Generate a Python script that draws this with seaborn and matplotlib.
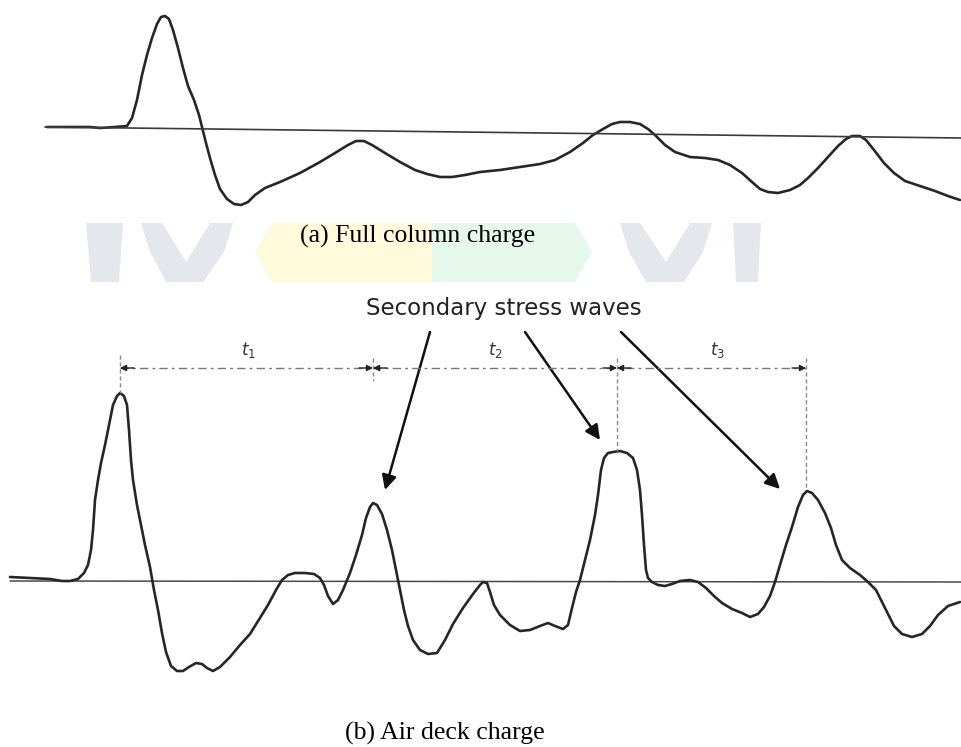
import numpy as np
import pandas as pd
import matplotlib
matplotlib.use("Agg")
import matplotlib.pyplot as plt
from matplotlib.patches import Polygon
import seaborn as sns

sns.set_theme(style="white")
plt.rcParams["font.family"] = ["Liberation Serif", "DejaVu Serif"]

# ---- (a) full column charge: time vs. amplitude ----
t_full = [47, 90, 100, 115, 127, 132, 137, 142, 147, 152, 157, 161, 165, 169, 173, 178, 183, 188,
          194, 199, 202, 206, 210, 215, 220, 227, 234, 241, 248, 255, 265, 280, 300, 320, 335, 348,
          356, 364, 372, 385, 400, 415, 427, 440, 452, 465, 480, 500, 520, 540, 555, 570, 583, 593,
          603, 612, 620, 630, 640, 648, 655, 665, 675, 690, 705, 718, 730, 742, 752, 760, 768, 778,
          790, 800, 808, 818, 828, 838, 846, 852, 860, 866, 874, 884, 894, 905, 920, 935, 948, 960]
v_full = [0, 0, -1, 0, 1, 9, 27, 52, 72, 89, 103, 110, 111, 108, 97, 79, 59, 41,
          27, 12, 0, -16, -31, -48, -62, -72, -77, -78, -75, -68, -61, -55, -46, -35, -26, -18,
          -14, -14, -18, -26, -35, -43, -47, -50, -50, -48, -45, -43, -40, -37, -33, -25, -16, -8,
          -2, 3, 5, 5, 3, -2, -8, -18, -25, -30, -31, -33, -38, -46, -55, -62, -65, -66,
          -63, -58, -51, -41, -30, -19, -12, -9, -9, -13, -23, -36, -46, -54, -59, -64, -69, -73]
t_full_base = [45, 961]
v_full_base = [0, -11]

# ---- (b) air deck charge ----
t_air = [10, 30, 50, 62, 70, 78, 84, 88, 91, 93, 95, 98, 101, 105, 109, 113, 117, 120, 124, 127,
         129, 131, 133, 137, 141, 145, 150, 154, 158, 162, 166, 171, 177, 183, 189, 196, 202, 207,
         213, 220, 230, 240, 250, 260, 268, 276, 282, 288, 295, 305, 314, 320, 324, 328, 333, 338,
         343, 350, 356, 362, 366, 370, 373, 377, 382, 387, 392, 396, 400, 404, 408, 413, 420, 428,
         437, 445, 453, 463, 473, 480, 483, 487, 490, 494, 500, 510, 520, 530, 540, 548, 555, 563,
         568, 572, 576, 580, 585, 590, 595, 598, 601, 604, 608, 613, 620, 627, 633, 637, 640, 642,
         644, 646, 648, 652, 658, 665, 672, 680, 690, 698, 706, 714, 722, 732, 742, 750, 758, 764,
         770, 775, 780, 786, 792, 798, 803, 807, 812, 818, 825, 831, 836, 842, 850, 860, 868, 876,
         882, 888, 894, 902, 912, 922, 930, 938, 948, 960]
v_air = [4, 3, 2, 0, 0, 2, 8, 16, 31, 51, 81, 101, 118, 136, 156, 176, 185, 188, 185, 176,
         151, 121, 101, 76, 56, 36, 14, -9, -29, -52, -71, -85, -90, -90, -86, -82, -83, -87,
         -90, -86, -76, -64, -53, -37, -24, -9, 1, 6, 8, 8, 7, 3, -4, -15, -23, -19,
         -9, 8, 26, 46, 63, 74, 78, 76, 67, 51, 31, 11, -9, -29, -45, -59, -69, -73,
         -72, -59, -43, -27, -13, -4, -1, -2, -11, -24, -34, -44, -50, -49, -45, -42, -45, -48,
         -44, -27, -11, 1, 21, 41, 66, 86, 111, 123, 128, 129, 130, 128, 123, 111, 91, 66,
         36, 11, 3, -1, -4, -5, -3, 0, 1, -1, -7, -15, -22, -28, -32, -36, -33, -26,
         -15, -1, 16, 36, 54, 74, 86, 90, 88, 81, 68, 53, 36, 21, 13, 6, -1, -9,
         -21, -33, -45, -53, -56, -53, -45, -34, -25, -21]
t_air_base = [10, 961]
v_air_base = [0, -1]

# secondary-wave arrival times and interval labels
t_arrivals = [120, 373, 617, 806]
interval_labels = ["$t_1$", "$t_2$", "$t_3$"]

title_a = "(a) Full column charge"
title_b = "(b) Air deck charge"
note = "Secondary stress waves"

W, H = 961, 747
fig = plt.figure(figsize=(W / 100, H / 100), dpi=100)
fig.patch.set_facecolor("white")

# layout layer in figure units (pixels, y downwards)
bg = fig.add_axes([0, 0, 1, 1])
bg.set_xlim(0, W)
bg.set_ylim(H, 0)
bg.axis("off")

# faint emblem band behind the caption
grey = (0.895, 0.91, 0.93)
band = [
    ([(86, 223), (123, 223), (119, 282), (91, 282)], grey),
    ([(141, 223), (162, 223), (186, 262), (210, 223), (233, 223), (224, 252), (203, 282),
      (166, 282), (150, 252)], grey),
    ([(272, 223), (432, 223), (432, 282), (272, 282), (255, 252)], (1.0, 0.98, 0.86)),
    ([(432, 223), (575, 223), (592, 252), (575, 282), (432, 282)], (0.9, 0.97, 0.92)),
    ([(620, 223), (640, 223), (666, 262), (690, 223), (712, 223), (703, 252), (684, 282),
      (646, 282), (629, 252)], grey),
    ([(733, 223), (761, 223), (758, 282), (736, 282)], grey),
]
for pts, col in band:
    bg.add_patch(Polygon(pts, closed=True, facecolor=col, edgecolor="none", zorder=0))

ink = "#262626"

# top trace
ax_a = fig.add_axes([0, 0, 1, 1], facecolor="none")
ax_a.set_xlim(0, W)
ax_a.set_ylim(127 - H, 127)
ax_a.axis("off")
df_a = pd.DataFrame({"t": t_full, "v": v_full})
sns.lineplot(data=df_a, x="t", y="v", ax=ax_a, sort=False, estimator=None,
             color=ink, lw=1.9, solid_joinstyle="round", solid_capstyle="round")
sns.lineplot(x=t_full_base, y=v_full_base, ax=ax_a, sort=False, estimator=None,
             color="#3a3a3a", lw=1.2)

# bottom trace
ax_b = fig.add_axes([0, 0, 1, 1], facecolor="none")
ax_b.set_xlim(0, W)
ax_b.set_ylim(581 - H, 581)
ax_b.axis("off")
df_b = pd.DataFrame({"t": t_air, "v": v_air})
sns.lineplot(x=t_air_base, y=v_air_base, ax=ax_b, sort=False, estimator=None,
             color="#4a4a4a", lw=1.1)
sns.lineplot(data=df_b, x="t", y="v", ax=ax_b, sort=False, estimator=None,
             color=ink, lw=1.9, solid_joinstyle="round", solid_capstyle="round")

# interval dimension line above the peaks
dim_y = 213  # amplitude level of the dimension line
ax_b.plot([t_arrivals[0], t_arrivals[-1]], [dim_y, dim_y], color="#777777", lw=1.0,
          ls=(0, (6, 3, 2, 3)))
tick_top = [226, 223, 223, 223]
tick_bot = [188, 200, 130, 91]
for x, y0, y1 in zip(t_arrivals, tick_top, tick_bot):
    ax_b.plot([x, x], [y0, y1], color="#8a8a8a", lw=1.0, ls=(0, (3, 2)))
for i in range(len(t_arrivals) - 1):
    a, b = t_arrivals[i], t_arrivals[i + 1]
    for tip, tail in ((a, a + 14), (b, b - 14)):
        ax_b.annotate("", xy=(tip, dim_y), xytext=(tail, dim_y),
                      arrowprops=dict(arrowstyle="-|>", color="#222222", lw=1.0,
                                      mutation_scale=9, shrinkA=0, shrinkB=0))
label_x = [248, 495, 718]
for x, lab in zip(label_x, interval_labels):
    ax_b.text(x, dim_y + 8, lab, ha="center", va="bottom", fontsize=12, color="#333333",
              fontstyle="italic")

# captions
bg.text(418, 236, title_a, ha="center", va="center", fontsize=18.5, color="black")
bg.text(445, 733, title_b, ha="center", va="center", fontsize=18.5, color="black")
bg.text(504, 308, note, ha="center", va="center", fontsize=16.5, color="#222222",
        family=["DejaVu Sans"])

# pointers to the secondary peaks
starts = [(430, 332), (525, 332), (621, 332)]
peak_t = [373, 617, 806]
peak_v = [78, 129, 91]
offsets = [(12, 13), (-17, 12), (-26, 1)]
for (sx, sy), pt, pv, (dx, dy) in zip(starts, peak_t, peak_v, offsets):
    tip = ax_b.transData.transform((pt + dx, pv + dy))
    tip = bg.transData.inverted().transform(tip)
    bg.annotate("", xy=tip, xytext=(sx, sy),
                arrowprops=dict(arrowstyle="-|>", color="#111111", lw=1.8,
                                mutation_scale=22, shrinkA=0, shrinkB=0))

fig.savefig("out.png", dpi=100, facecolor="white")
